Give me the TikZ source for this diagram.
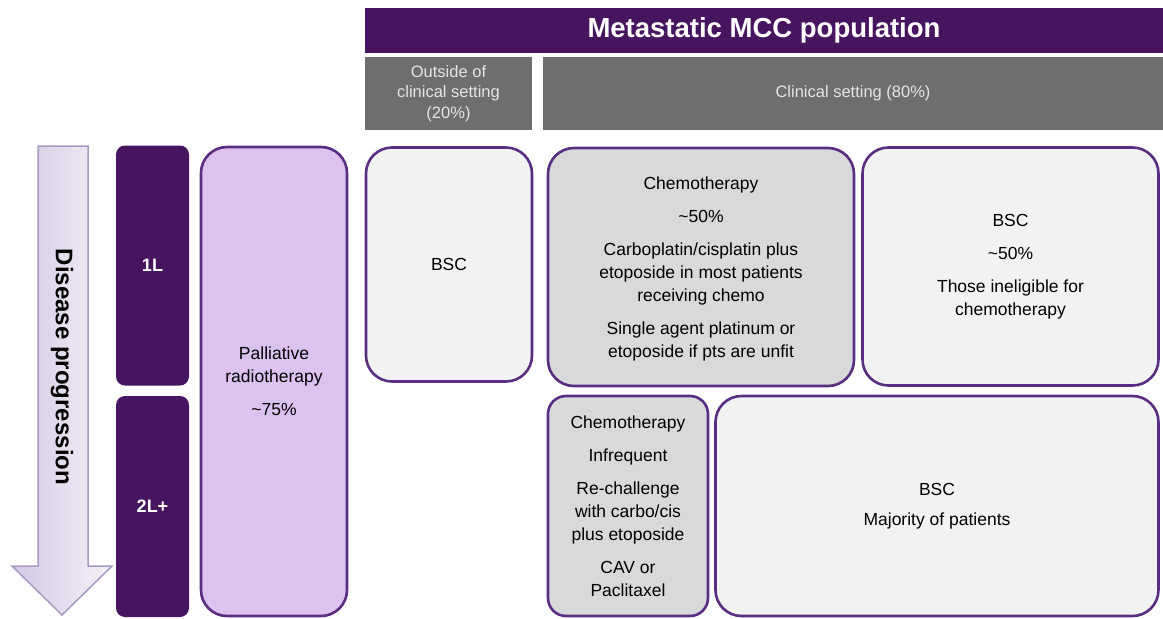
\documentclass[tikz,border=0pt]{standalone}
\usepackage{fontspec}
\setmainfont{Liberation Sans}
\definecolor{dpurple}{HTML}{47155F}
\definecolor{bpurple}{HTML}{5A2D82}
\definecolor{lav}{HTML}{DCC2EF}
\definecolor{hgray}{HTML}{6E6E6E}
\definecolor{mgray}{HTML}{D9D9D9}
\definecolor{lgray}{HTML}{F2F2F2}
\definecolor{arrL}{HTML}{D2C7E3}
\definecolor{arrR}{HTML}{F5F2F9}
\definecolor{arrB}{HTML}{A899C2}
\tikzset{
  body/.style={font=\fontsize{17.5}{23}\selectfont, align=center, text=black},
  pbox/.style={draw=bpurple, line width=2.6pt, rounded corners=26pt, inner sep=0pt, body},
  linebox/.style={fill=dpurple, rounded corners=9pt, inner sep=0pt, text=white, font=\fontsize{18}{22}\selectfont\bfseries},
  hbox/.style={fill=hgray, inner sep=0pt, text=white!90!black, align=center, font=\fontsize{16.5}{20.5}\selectfont},
}
\begin{document}
\begin{tikzpicture}[x=1pt,y=-1pt]
\useasboundingbox (0,0) rectangle (1163,619);
% header
\node[fill=dpurple, inner sep=0pt, minimum width=798pt, minimum height=45pt, text=white, font=\fontsize{27.5}{30}\selectfont\bfseries] (title) at (764,30.5) {Metastatic MCC population};
\node[hbox, minimum width=167pt, minimum height=73pt] (outside) at (448.5,93.5) {Outside of\\clinical setting\\(20\%)};
\node[hbox, minimum width=620pt, minimum height=73pt] (clinical) at (853,93.5) {Clinical setting (80\%)};
% arrow
\path[left color=arrL, right color=arrR, draw=arrB, line width=1.5pt]
  (38,146) -- (88,146) -- (88,566) -- (112,566) -- (62,615) -- (12,566) -- (38,566) -- cycle;
\node[rotate=-90, font=\fontsize{24}{26}\selectfont\bfseries] (prog) at (62,367) {Disease progression};
% lines
\node[linebox, minimum width=73pt, minimum height=240pt] (l1) at (152.5,265.5) {1L};
\node[linebox, minimum width=73pt, minimum height=221pt] (l2) at (152.5,506.5) {2L+};
% palliative
\node[pbox, fill=lav, minimum width=146pt, minimum height=469pt] (pall) at (274,381.5) {Palliative\\radiotherapy\\[10pt]\textasciitilde75\%};
% BSC outside
\node[pbox, fill=lgray, minimum width=166pt, minimum height=234pt] (bsco) at (449,264.5) {BSC};
% chemo 1L
\node[pbox, fill=mgray, minimum width=306pt, minimum height=238pt, text depth=0pt] (chemo1) at (701,267) {Chemotherapy\\[10pt]\textasciitilde50\%\\[10pt]Carboplatin/cisplatin plus\\etoposide in most patients\\receiving chemo\\[10pt]Single agent platinum or\\etoposide if pts are unfit};
% BSC 50
\node[pbox, fill=lgray, minimum width=296pt, minimum height=238pt] (bsc1) at (1010.5,266.5) {BSC\\[10pt]\textasciitilde50\%\\[10pt]Those ineligible for\\chemotherapy};
% chemo 2L
\node[pbox, fill=mgray, rounded corners=18pt, minimum width=160pt, minimum height=220pt] (chemo2) at (628,506) {Chemotherapy\\[10pt]Infrequent\\[10pt]Re-challenge\\with carbo/cis\\plus etoposide\\[10pt]CAV or\\Paclitaxel};
% BSC majority
\node[pbox, fill=lgray, minimum width=443pt, minimum height=220pt] (bsc2) at (937,506) {BSC\\[7pt]Majority of patients};
\end{tikzpicture}
\end{document}
